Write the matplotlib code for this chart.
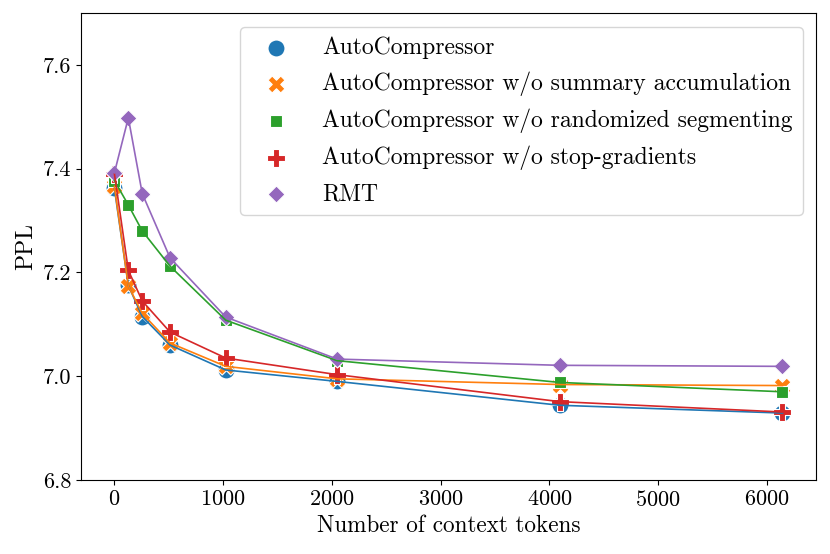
import matplotlib
matplotlib.use("Agg")
import matplotlib.pyplot as plt

plt.rcParams["font.family"] = ["cmr10", "DejaVu Serif"]
plt.rcParams["mathtext.fontset"] = "cm"
plt.rcParams["axes.formatter.use_mathtext"] = True

# context lengths and PPL per variant
tokens = [0, 128, 256, 512, 1024, 2048, 4096, 6144]
auto = [7.362, 7.175, 7.115, 7.060, 7.012, 6.990, 6.944, 6.929]
no_accum = [7.366, 7.174, 7.121, 7.064, 7.019, 6.995, 6.984, 6.982]
no_random = [7.377, 7.330, 7.280, 7.212, 7.108, 7.030, 6.988, 6.970]
no_stopgrad = [7.390, 7.204, 7.145, 7.085, 7.035, 7.003, 6.951, 6.931]
rmt = [7.392, 7.498, 7.352, 7.228, 7.114, 7.033, 7.021, 7.019]

names = [
    "AutoCompressor",
    "AutoCompressor w/o summary accumulation",
    "AutoCompressor w/o randomized segmenting",
    "AutoCompressor w/o stop-gradients",
    "RMT",
]
series = [auto, no_accum, no_random, no_stopgrad, rmt]
colors = ["#1f77b4", "#ff7f0e", "#2ca02c", "#d62728", "#9467bd"]
# seaborn-style filled markers: circle, X, square, plus, diamond
markers = ["o", "X", (4, 0, 45), "P", (4, 0, 0)]

fig = plt.figure(figsize=(8.3, 5.54), dpi=100)
ax = fig.add_axes([0.0976, 0.1336, 0.8854, 0.8429])

for vals, name, c, m in zip(series, names, colors, markers):
    ax.plot(tokens, vals, color=c, linewidth=1.2)
    ax.scatter(tokens, vals, s=150, marker=m, color=c, edgecolors="white",
               linewidths=0.8, label=name)

ax.set_ylim(6.8, 7.7)
ax.set_yticks([6.8, 7.0, 7.2, 7.4, 7.6])
ax.set_yticklabels(["6.8", "7.0", "7.2", "7.4", "7.6"])
ax.tick_params(labelsize=16)
ax.set_xlabel("Number of context tokens", fontsize=16.7)
ax.set_ylabel("PPL", fontsize=17)

ax.legend(loc="upper right", bbox_to_anchor=(0.982, 0.970), borderaxespad=0,
          fontsize=17, labelspacing=0.53, handlelength=2.25,
          handletextpad=0.82, borderpad=0.42)

fig.savefig("out.png", dpi=100)
